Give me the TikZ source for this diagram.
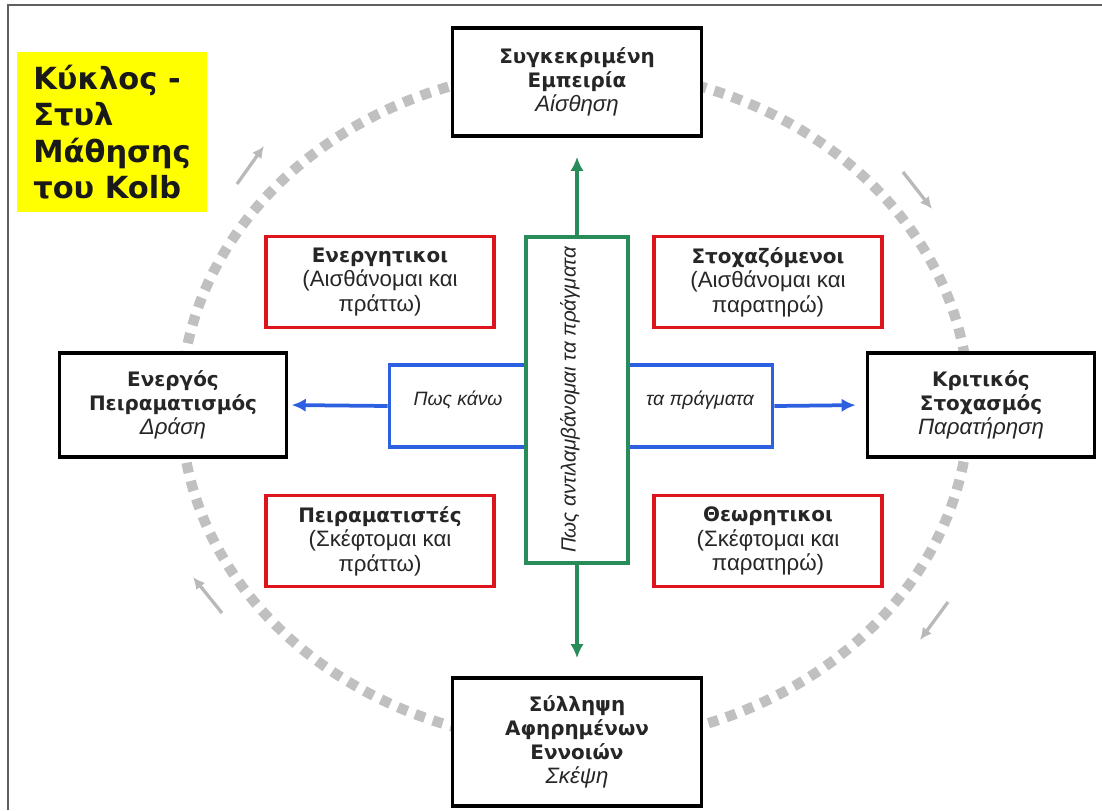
\documentclass[tikz,border=0pt]{standalone}
\usepackage{fontspec}
\setmainfont{Liberation Sans}
\newfontfamily\verdfont{DejaVu Sans}
\usepackage{tikz}
\usetikzlibrary{arrows.meta, positioning}
\definecolor{kolbyellow}{RGB}{255, 255, 0}
\definecolor{kolbred}{RGB}{222, 20, 28}
\definecolor{kolbgreen}{RGB}{40, 140, 90}
\definecolor{kolbblue}{RGB}{45, 95, 225}
\definecolor{kolbgray}{RGB}{192, 192, 192}
\definecolor{framegray}{RGB}{95, 95, 95}

\newcommand{\headtxt}{\verdfont\bfseries\fontsize{17}{20.5}\selectfont}
\newcommand{\subtxt}{\fontsize{19}{21}\selectfont}
\newcommand{\kolbit}[1]{{\normalfont\itshape\subtxt #1}}

\begin{document}
\begin{tikzpicture}[x=0.03cm, y=-0.03cm, >={Latex[length=0.42cm, width=0.4cm]},
    stagebox/.style={draw=black, line width=3.2pt, fill=white, align=center, text=black!85, font=\headtxt},
    stylebox/.style={draw=kolbred, line width=3.2pt, fill=white, align=center, text=black!85, font=\subtxt,
        minimum width=6.84cm, minimum height=2.73cm},
    axislabel/.style={text=black!85, font=\itshape\fontsize{16.5}{20}\selectfont, inner sep=1pt},
    cyclearrow/.style={-{Latex[length=0.36cm, width=0.34cm]}, gray!55, line width=2.8pt}]
    \useasboundingbox (0,0) rectangle (1102,810);

    % Frame
    \draw[framegray, line width=2.5pt] (8,810) -- (8,5) -- (1102,5);

    % The Cycle (dotted ring)
    \draw[kolbgray, line width=0.31cm, dash pattern=on 0.31cm off 0.25cm] (575,406) ellipse [x radius=394, y radius=337];

    % Direction of the cycle
    \foreach \i/\sx/\sy/\ex/\ey in {1/237/184/264/146, 2/903/172/932/209, 3/948/602/920/640, 4/222/613/193/577} {
        \coordinate (cs\i) at (\sx,\sy);
        \coordinate (ce\i) at (\ex,\ey);
        \draw[cyclearrow] (cs\i) -- (ce\i);
    }

    % Title
    \node[fill=kolbyellow, minimum width=5.7cm, minimum height=4.77cm, align=left, text=black!90,
        font=\verdfont\bfseries\fontsize{26}{31}\selectfont] (title) at (112,132) {Κύκλος -\\Στυλ\\Μάθησης\\του Kolb};

    % Axes (how I do / how I perceive)
    \node[draw=kolbblue, line width=3.2pt, minimum width=11.49cm, minimum height=2.46cm] (doing) at (581,406) {};
    \node[draw=kolbgreen, line width=3.2pt, fill=white, minimum width=3.06cm, minimum height=9.78cm] (seeing) at (577,400) {};
    \node[axislabel] (dolabel) at (458,400) {Πως κάνω};
    \node[axislabel] (thingslabel) at (700,400) {τα πράγματα};
    \node[axislabel, rotate=90, font=\itshape\fontsize{17.5}{20}\selectfont] (seelabel) at (570,400) {Πως αντιλαμβάνομαι τα πράγματα};

    % Four stages
    \node[stagebox, minimum width=7.47cm, minimum height=3.24cm] (concrete) at (577,82) {Συγκεκριμένη\\Εμπειρία\\\kolbit{Αίσθηση}};
    \node[stagebox, minimum width=6.81cm, minimum height=3.12cm] (active) at (173,405) {Ενεργός\\Πειραματισμός\\\kolbit{Δράση}};
    \node[stagebox, minimum width=6.81cm, minimum height=3.12cm] (reflect) at (981,405) {Κριτικός\\Στοχασμός\\\kolbit{Παρατήρηση}};
    \node[stagebox, minimum width=7.47cm, minimum height=3.84cm] (abstract) at (577,742) {Σύλληψη\\Αφηρημένων\\Εννοιών\\\kolbit{Σκέψη}};

    % Four learning styles
    \node[stylebox] (activist) at (380,282) {{\headtxt Ενεργητικοι}\\(Αισθάνομαι και\\πράττω)};
    \node[stylebox] (reflector) at (768,282) {{\headtxt Στοχαζόμενοι}\\(Αισθάνομαι και\\παρατηρώ)};
    \node[stylebox] (pragmatist) at (380,541) {{\headtxt Πειραματιστές}\\(Σκέφτομαι και\\πράττω)};
    \node[stylebox] (theorist) at (768,541) {{\headtxt Θεωρητικοι}\\(Σκέφτομαι και\\παρατηρώ)};

    % Arrows out of the axes
    \draw[->, kolbgreen, line width=3.2pt, shorten >=0.57cm] (seeing.north) -- (concrete.south);
    \draw[->, kolbgreen, line width=3.2pt, shorten >=0.54cm] (seeing.south) -- (abstract.north);
    \draw[->, kolbblue, line width=3.2pt, shorten >=0.1cm] (doing.west) -- (active.east);
    \draw[->, kolbblue, line width=3.2pt, shorten >=0.3cm] (doing.east) -- (reflect.west);
\end{tikzpicture}
\end{document}
